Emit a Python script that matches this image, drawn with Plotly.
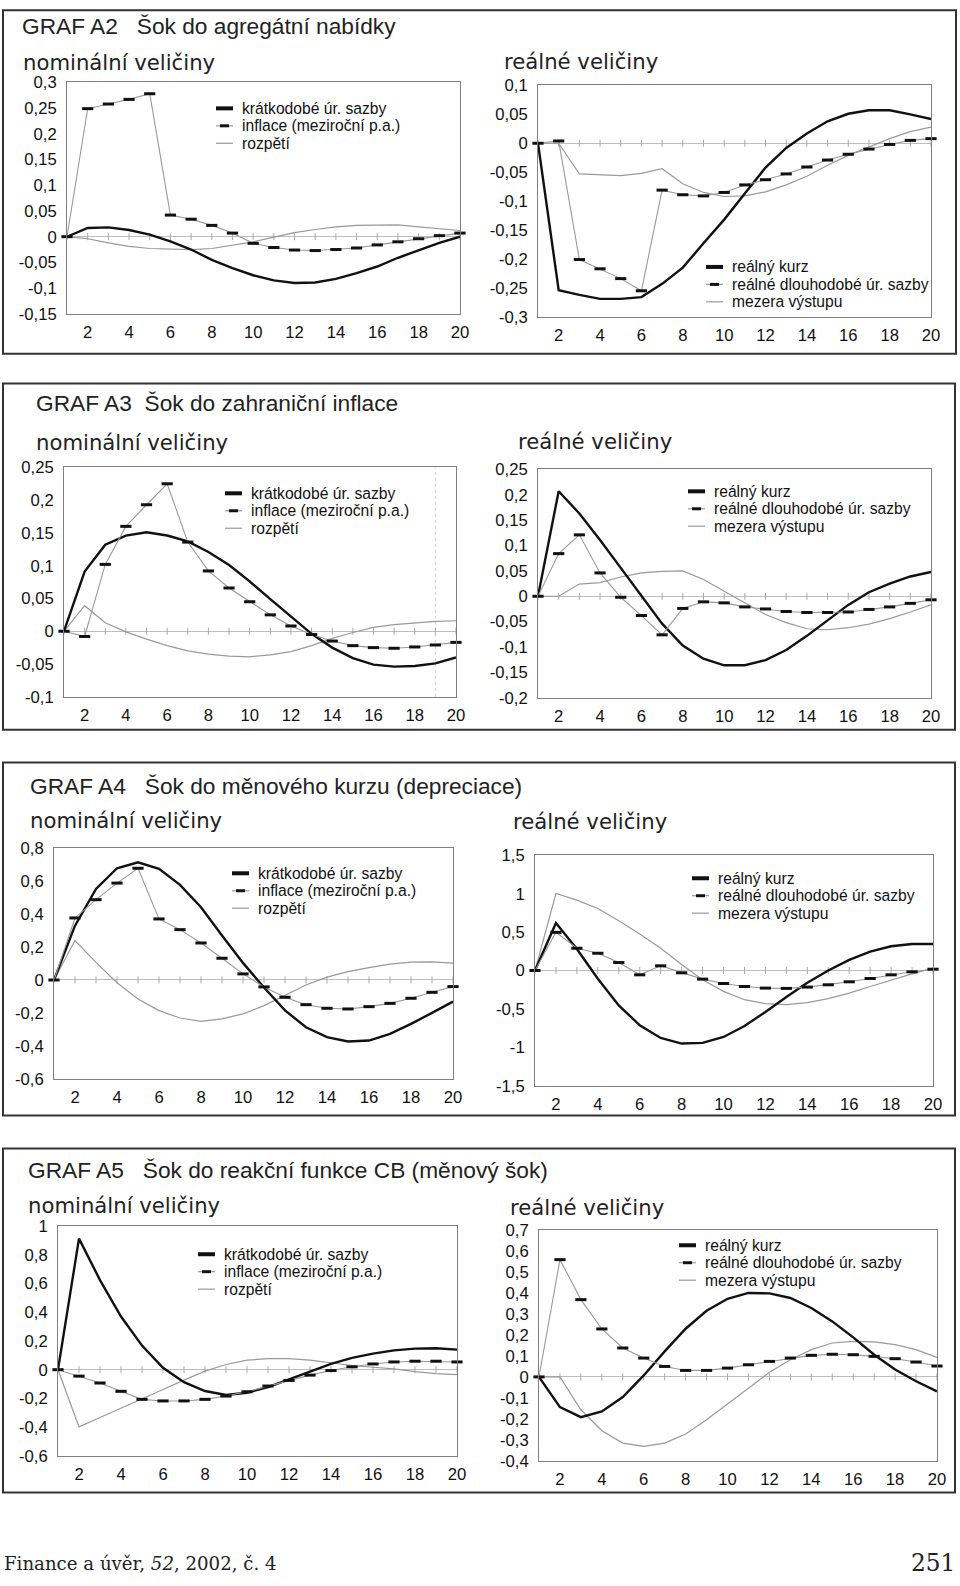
import plotly.graph_objects as go

# ---------------- data ----------------
periods = list(range(1, 21))
x_tickvals = [2, 4, 6, 8, 10, 12, 14, 16, 18, 20]
x_ticktext = ["2", "4", "6", "8", "10", "12", "14", "16", "18", "20"]

nominal_names = ["krátkodobé úr. sazby", "inflace (meziroční p.a.)", "rozpětí"]
real_names = ["reálný kurz", "reálné dlouhodobé úr. sazby", "mezera výstupu"]

panel_titles = [
    "GRAF A2\u00a0\u00a0\u00a0Šok do agregátní nabídky",
    "GRAF A3\u00a0\u00a0Šok do zahraniční inflace",
    "GRAF A4\u00a0\u00a0\u00a0Šok do měnového kurzu (depreciace)",
    "GRAF A5\u00a0\u00a0\u00a0Šok do reakční funkce CB (měnový šok)",
]
sub_nominal = "nominální veličiny"
sub_real = "reálné veličiny"

# GRAF A2
a2_nom_rate = [0, 0.017, 0.018, 0.013, 0.004, -0.009, -0.025, -0.045, -0.061, -0.075, -0.085, -0.090, -0.089, -0.082, -0.071, -0.058, -0.041, -0.027, -0.012, 0.0]
a2_nom_infl = [0, 0.249, 0.258, 0.267, 0.278, 0.042, 0.034, 0.022, 0.007, -0.013, -0.021, -0.026, -0.027, -0.025, -0.022, -0.016, -0.010, -0.004, 0.002, 0.007]
a2_nom_spread = [0, -0.004, -0.012, -0.019, -0.023, -0.024, -0.025, -0.023, -0.017, -0.010, -0.001, 0.008, 0.014, 0.019, 0.022, 0.023, 0.023, 0.019, 0.016, 0.012]
a2_real_fx = [0, -0.254, -0.262, -0.269, -0.269, -0.266, -0.243, -0.215, -0.173, -0.132, -0.087, -0.042, -0.008, 0.017, 0.038, 0.051, 0.057, 0.057, 0.050, 0.042]
a2_real_lr = [0, 0.004, -0.201, -0.217, -0.234, -0.255, -0.081, -0.089, -0.091, -0.085, -0.072, -0.063, -0.053, -0.041, -0.029, -0.019, -0.010, -0.002, 0.005, 0.008]
a2_real_gap = [0, 0.0, -0.053, -0.055, -0.056, -0.052, -0.044, -0.070, -0.085, -0.092, -0.091, -0.084, -0.072, -0.057, -0.038, -0.021, -0.006, 0.008, 0.020, 0.028]

# GRAF A3
a3_nom_rate = [0, 0.091, 0.132, 0.146, 0.151, 0.146, 0.137, 0.121, 0.101, 0.076, 0.049, 0.022, -0.004, -0.025, -0.041, -0.051, -0.054, -0.053, -0.049, -0.040]
a3_nom_infl = [0, -0.008, 0.102, 0.160, 0.193, 0.225, 0.136, 0.092, 0.066, 0.045, 0.025, 0.008, -0.005, -0.015, -0.022, -0.025, -0.026, -0.024, -0.021, -0.017]
a3_nom_spread = [0, 0.039, 0.013, -0.001, -0.012, -0.022, -0.030, -0.035, -0.038, -0.039, -0.036, -0.031, -0.022, -0.011, -0.002, 0.006, 0.010, 0.013, 0.015, 0.016]
a3_real_fx = [0, 0.207, 0.163, 0.111, 0.056, 0.000, -0.054, -0.097, -0.123, -0.136, -0.136, -0.126, -0.106, -0.078, -0.047, -0.017, 0.008, 0.025, 0.039, 0.048]
a3_real_lr = [0, 0.084, 0.121, 0.046, -0.002, -0.038, -0.076, -0.024, -0.011, -0.013, -0.021, -0.025, -0.030, -0.032, -0.032, -0.031, -0.026, -0.021, -0.014, -0.007]
a3_real_gap = [0, 0.000, 0.024, 0.027, 0.038, 0.046, 0.049, 0.050, 0.033, 0.010, -0.013, -0.036, -0.052, -0.064, -0.066, -0.062, -0.055, -0.044, -0.031, -0.017]

# GRAF A4
a4_nom_rate = [0, 0.330, 0.553, 0.679, 0.715, 0.675, 0.578, 0.442, 0.270, 0.104, -0.046, -0.185, -0.287, -0.347, -0.374, -0.368, -0.327, -0.267, -0.200, -0.131]
a4_nom_infl = [0, 0.377, 0.488, 0.589, 0.679, 0.371, 0.306, 0.225, 0.132, 0.037, -0.042, -0.105, -0.150, -0.172, -0.176, -0.162, -0.142, -0.111, -0.075, -0.040]
a4_nom_spread = [0, 0.240, 0.107, -0.017, -0.115, -0.186, -0.231, -0.251, -0.236, -0.206, -0.156, -0.095, -0.030, 0.017, 0.051, 0.075, 0.096, 0.108, 0.110, 0.102]
a4_real_fx = [0, 0.618, 0.281, -0.108, -0.454, -0.713, -0.878, -0.951, -0.942, -0.865, -0.722, -0.540, -0.346, -0.160, 0.000, 0.138, 0.246, 0.316, 0.346, 0.346]
a4_real_lr = [0, 0.497, 0.290, 0.225, 0.104, -0.056, 0.061, -0.030, -0.112, -0.169, -0.208, -0.229, -0.233, -0.216, -0.186, -0.147, -0.104, -0.056, -0.017, 0.017]
a4_real_gap = [0, 1.003, 0.917, 0.808, 0.648, 0.476, 0.290, 0.078, -0.121, -0.272, -0.380, -0.432, -0.445, -0.419, -0.367, -0.294, -0.208, -0.121, -0.043, 0.030]

# GRAF A5
a5_nom_rate = [0, 0.914, 0.625, 0.371, 0.168, 0.013, -0.087, -0.149, -0.177, -0.161, -0.121, -0.068, -0.010, 0.040, 0.082, 0.112, 0.135, 0.147, 0.149, 0.140]
a5_nom_infl = [0, -0.045, -0.093, -0.151, -0.207, -0.218, -0.218, -0.207, -0.184, -0.154, -0.114, -0.075, -0.038, -0.006, 0.020, 0.040, 0.054, 0.059, 0.059, 0.054]
a5_nom_spread = [0, -0.399, -0.334, -0.267, -0.200, -0.138, -0.073, -0.010, 0.036, 0.066, 0.077, 0.077, 0.066, 0.047, 0.029, 0.017, 0.006, -0.013, -0.027, -0.034]
a5_real_fx = [0, -0.144, -0.192, -0.165, -0.096, 0.007, 0.122, 0.230, 0.316, 0.373, 0.401, 0.399, 0.377, 0.329, 0.265, 0.189, 0.106, 0.035, -0.021, -0.069]
a5_real_lr = [0, 0.560, 0.369, 0.229, 0.138, 0.090, 0.050, 0.031, 0.031, 0.042, 0.058, 0.074, 0.090, 0.103, 0.108, 0.106, 0.098, 0.087, 0.071, 0.052]
a5_real_gap = [0, 0.000, -0.157, -0.257, -0.316, -0.332, -0.316, -0.273, -0.205, -0.130, -0.053, 0.022, 0.082, 0.130, 0.162, 0.170, 0.167, 0.154, 0.130, 0.093]

# y tick labels
a2_nom_yvals = [-0.15, -0.1, -0.05, 0, 0.05, 0.1, 0.15, 0.2, 0.25, 0.3]
a2_nom_ytext = ["-0,15", "-0,1", "-0,05", "0", "0,05", "0,1", "0,15", "0,2", "0,25", "0,3"]
a2_real_yvals = [-0.3, -0.25, -0.2, -0.15, -0.1, -0.05, 0, 0.05, 0.1]
a2_real_ytext = ["-0,3", "-0,25", "-0,2", "-0,15", "-0,1", "-0,05", "0", "0,05", "0,1"]
a3_nom_yvals = [-0.1, -0.05, 0, 0.05, 0.1, 0.15, 0.2, 0.25]
a3_nom_ytext = ["-0,1", "-0,05", "0", "0,05", "0,1", "0,15", "0,2", "0,25"]
a3_real_yvals = [-0.2, -0.15, -0.1, -0.05, 0, 0.05, 0.1, 0.15, 0.2, 0.25]
a3_real_ytext = ["-0,2", "-0,15", "-0,1", "-0,05", "0", "0,05", "0,1", "0,15", "0,2", "0,25"]
a4_nom_yvals = [-0.6, -0.4, -0.2, 0, 0.2, 0.4, 0.6, 0.8]
a4_nom_ytext = ["-0,6", "-0,4", "-0,2", "0", "0,2", "0,4", "0,6", "0,8"]
a4_real_yvals = [-1.5, -1, -0.5, 0, 0.5, 1, 1.5]
a4_real_ytext = ["-1,5", "-1", "-0,5", "0", "0,5", "1", "1,5"]
a5_nom_yvals = [-0.6, -0.4, -0.2, 0, 0.2, 0.4, 0.6, 0.8, 1]
a5_nom_ytext = ["-0,6", "-0,4", "-0,2", "0", "0,2", "0,4", "0,6", "0,8", "1"]
a5_real_yvals = [-0.4, -0.3, -0.2, -0.1, 0, 0.1, 0.2, 0.3, 0.4, 0.5, 0.6, 0.7]
a5_real_ytext = ["-0,4", "-0,3", "-0,2", "-0,1", "0", "0,1", "0,2", "0,3", "0,4", "0,5", "0,6", "0,7"]

footer_left = "Finance a úvěr, <i>52</i>, 2002, č. 4"
footer_right = "251"

# ---------------- layout helpers ----------------
W, H = 960, 1586              # page design coordinates (reference pixels)
FIG_W, FIG_H = 969, 1586      # figure size in CSS pixels
S = W / FIG_W                 # capture scale observed for the page
PAD = (H - FIG_H * S) / 2     # vertical band the capture leaves at top/bottom


def px(x):
    return x / W


def py(y):
    return 1 - (y - PAD) / (FIG_H * S)


def fs(size):
    return round(size / S, 2)


SANS = "Liberation Sans"
WIDE = "DejaVu Sans"
SERIF = "DejaVu Serif"
BLACK = "#111111"
GRAY = "#999999"

subplots = [
    dict(xd=(67, 460), yd=(81, 313), yr=(-0.15, 0.3), yv=a2_nom_yvals, yt=a2_nom_ytext,
         s=(a2_nom_rate, a2_nom_infl, a2_nom_spread), names=nominal_names, leg=(241, 107)),
    dict(xd=(538, 931), yd=(84, 316), yr=(-0.3, 0.1), yv=a2_real_yvals, yt=a2_real_ytext,
         s=(a2_real_fx, a2_real_lr, a2_real_gap), names=real_names, leg=(731, 266)),
    dict(xd=(64, 456), yd=(467, 697), yr=(-0.1, 0.25), yv=a3_nom_yvals, yt=a3_nom_ytext,
         s=(a3_nom_rate, a3_nom_infl, a3_nom_spread), names=nominal_names, leg=(250, 493)),
    dict(xd=(538, 931), yd=(469, 698), yr=(-0.2, 0.25), yv=a3_real_yvals, yt=a3_real_ytext,
         s=(a3_real_fx, a3_real_lr, a3_real_gap), names=real_names, leg=(713, 491)),
    dict(xd=(54, 453), yd=(849, 1080), yr=(-0.6, 0.8), yv=a4_nom_yvals, yt=a4_nom_ytext,
         s=(a4_nom_rate, a4_nom_infl, a4_nom_spread), names=nominal_names, leg=(257, 874)),
    dict(xd=(535, 933), yd=(856, 1087), yr=(-1.5, 1.5), yv=a4_real_yvals, yt=a4_real_ytext,
         s=(a4_real_fx, a4_real_lr, a4_real_gap), names=real_names, leg=(717, 879)),
    dict(xd=(58, 457), yd=(1228, 1458), yr=(-0.6, 1.0), yv=a5_nom_yvals, yt=a5_nom_ytext,
         s=(a5_nom_rate, a5_nom_infl, a5_nom_spread), names=nominal_names, leg=(223, 1256)),
    dict(xd=(539, 937), yd=(1232, 1463), yr=(-0.4, 0.7), yv=a5_real_yvals, yt=a5_real_ytext,
         s=(a5_real_fx, a5_real_lr, a5_real_gap), names=real_names, leg=(704, 1247)),
]

boxes = [(3, 8.6, 956, 353), (3, 383, 955, 730), (3, 763, 955, 1117), (3, 1150, 955, 1495)]
title_pos = [(21, 24), (35, 402), (29, 786), (27, 1172)]
nominal_pos = [(22, 61), (35, 442), (29, 821), (27, 1207)]
real_pos = [(503, 60), (517, 441), (512, 822), (509, 1209)]
LEG_ROW = 17.5

fig = go.Figure()
layout = dict(
    width=FIG_W, height=FIG_H, autosize=False, margin=dict(l=0, r=0, t=0, b=0, pad=0),
    paper_bgcolor="white", plot_bgcolor="white", showlegend=False,
)
shapes = []
annotations = []

for i, sp in enumerate(subplots):
    n = i + 1
    sfx = "" if n == 1 else str(n)
    xa, ya = "x" + sfx, "y" + sfx
    layout["xaxis" + sfx] = dict(
        domain=[px(sp["xd"][0]), px(sp["xd"][1])], range=[1, 20], anchor=ya,
        tickmode="array", tickvals=x_tickvals, ticktext=x_ticktext,
        showgrid=False, zeroline=False, showline=True, mirror=True,
        linecolor="#808080", linewidth=1, ticks="", ticklabelstandoff=3,
        tickfont=dict(family=SANS, size=fs(16.5), color=BLACK),
    )
    layout["yaxis" + sfx] = dict(
        domain=[py(sp["yd"][1]), py(sp["yd"][0])], range=list(sp["yr"]), anchor=xa,
        tickmode="array", tickvals=sp["yv"], ticktext=sp["yt"],
        showgrid=False, zeroline=True, zerolinecolor="#bdbdbd", zerolinewidth=1,
        showline=True, mirror=True, linecolor="#808080", linewidth=1,
        ticks="", ticklabelstandoff=6,
        tickfont=dict(family=SANS, size=fs(16.5), color=BLACK),
    )
    # small tick marks along the zero line
    fig.add_trace(go.Scatter(
        x=periods, y=[0] * len(periods), xaxis=xa, yaxis=ya, mode="markers",
        marker=dict(symbol="line-ns", size=5, line=dict(color="#a8a8a8", width=1)),
        hoverinfo="skip", showlegend=False, cliponaxis=False,
    ))
    s1, s2, s3 = sp["s"]
    nm = sp["names"]
    fig.add_trace(go.Scatter(
        x=periods, y=s3, xaxis=xa, yaxis=ya, mode="lines", name=nm[2],
        line=dict(color=GRAY, width=1.2), cliponaxis=False,
    ))
    fig.add_trace(go.Scatter(
        x=periods, y=s1, xaxis=xa, yaxis=ya, mode="lines", name=nm[0],
        line=dict(color=BLACK, width=2.4), cliponaxis=False,
    ))
    fig.add_trace(go.Scatter(
        x=periods, y=s2, xaxis=xa, yaxis=ya, mode="lines+markers", name=nm[1],
        line=dict(color=GRAY, width=1.1),
        marker=dict(symbol="line-ew", size=8, line=dict(color=BLACK, width=3)),
        cliponaxis=False,
    ))

    # legend (drawn manually to match the compact spacing of the original)
    tx, ty = sp["leg"]
    for k, name in enumerate(nm):
        ry = ty + k * LEG_ROW
        if k == 0:
            shapes.append(dict(type="line", xref="paper", yref="paper",
                               x0=px(tx - 25), x1=px(tx - 8), y0=py(ry), y1=py(ry),
                               line=dict(color=BLACK, width=4)))
        else:
            shapes.append(dict(type="line", xref="paper", yref="paper",
                               x0=px(tx - 25), x1=px(tx - 8), y0=py(ry), y1=py(ry),
                               line=dict(color=GRAY, width=1.2)))
        if k == 1:
            shapes.append(dict(type="rect", xref="paper", yref="paper",
                               x0=px(tx - 21), x1=px(tx - 12), y0=py(ry + 1.5), y1=py(ry - 1.5),
                               line=dict(width=0), fillcolor=BLACK))
        annotations.append(dict(
            text=name, xref="paper", yref="paper", x=px(tx), y=py(ry),
            xanchor="left", yanchor="middle", showarrow=False,
            font=dict(family=SANS, size=fs(15.5), color=BLACK), borderpad=0,
        ))

# faint dotted vertical line in GRAF A3 (nominal)
shapes.append(dict(type="line", xref="x3", yref="y3 domain", x0=19, x1=19, y0=0, y1=1,
                   line=dict(color="#cfcfcf", width=1, dash="dot"), layer="below"))

# panel frames
for b in boxes:
    shapes.append(dict(type="rect", xref="paper", yref="paper",
                       x0=px(b[0]), x1=px(b[2]), y0=py(b[3]), y1=py(b[1]),
                       line=dict(color="#333333", width=2), fillcolor="rgba(0,0,0,0)",
                       layer="below"))

for t, (x, y) in zip(panel_titles, title_pos):
    annotations.append(dict(text=t, xref="paper", yref="paper", x=px(x), y=py(y),
                            xanchor="left", yanchor="middle", showarrow=False, borderpad=0,
                            font=dict(family=SANS, size=fs(22.5), color="#222222")))
for (x, y) in nominal_pos:
    annotations.append(dict(text=sub_nominal, xref="paper", yref="paper", x=px(x), y=py(y),
                            xanchor="left", yanchor="middle", showarrow=False, borderpad=0,
                            font=dict(family=WIDE, size=fs(21), color="#222222")))
for (x, y) in real_pos:
    annotations.append(dict(text=sub_real, xref="paper", yref="paper", x=px(x), y=py(y),
                            xanchor="left", yanchor="middle", showarrow=False, borderpad=0,
                            font=dict(family=WIDE, size=fs(21), color="#222222")))

annotations.append(dict(text=footer_left, xref="paper", yref="paper", x=px(3), y=py(1566),
                        xanchor="left", yanchor="middle", showarrow=False, borderpad=0,
                        font=dict(family=SERIF, size=fs(18), color="#222222")))
annotations.append(dict(text=footer_right, xref="paper", yref="paper", x=px(956), y=py(1565),
                        xanchor="right", yanchor="middle", showarrow=False, borderpad=0,
                        font=dict(family=SERIF, size=fs(23), color="#222222")))

layout["shapes"] = shapes
layout["annotations"] = annotations
fig.update_layout(**layout)

POST = (
    "var h=document.documentElement, b=document.body;"
    "h.style.margin='0';h.style.padding='0';h.style.overflow='hidden';"
    "b.style.margin='0';b.style.padding='0';b.style.overflow='hidden';"
    "var g=document.querySelector('.plotly-graph-div');"
    "g.style.position='absolute';g.style.left='0px';g.style.top='0px';"
)

fig.write_html(
    "out.html",
    config={"displayModeBar": False, "staticPlot": True},
    post_script=POST,
)
